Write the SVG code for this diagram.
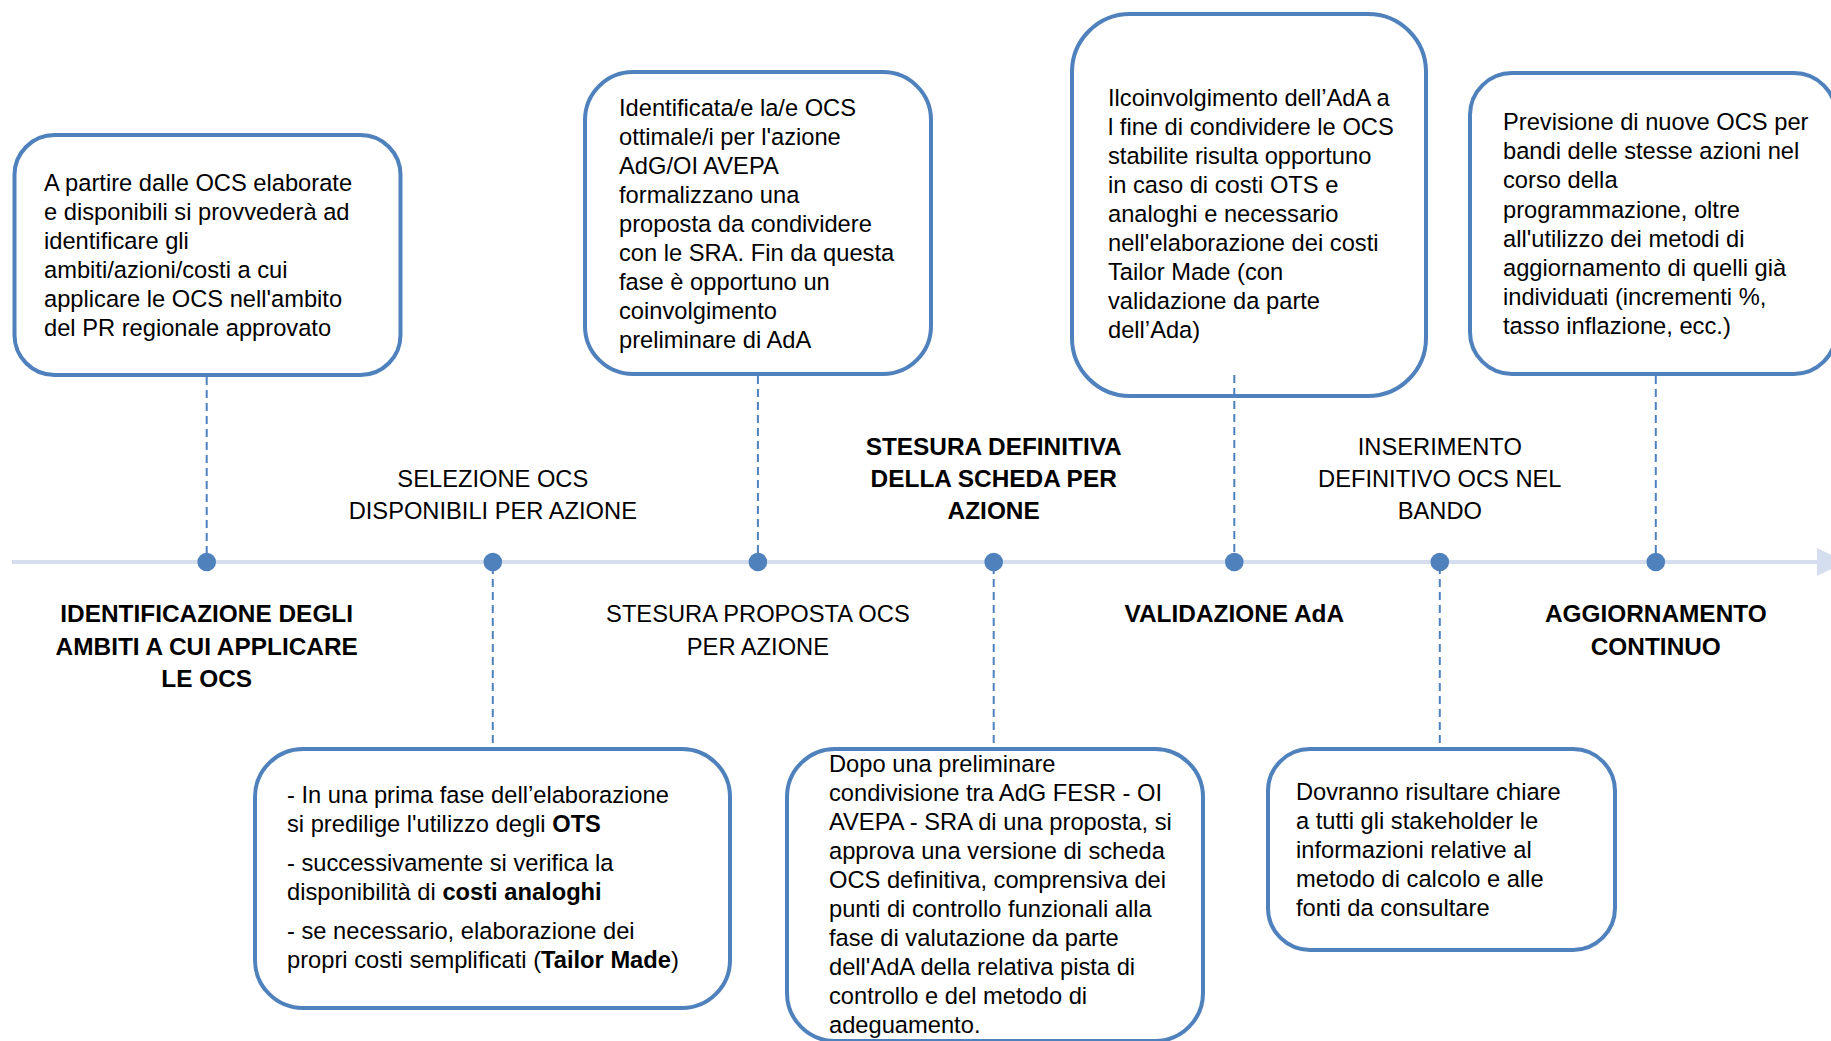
<svg xmlns="http://www.w3.org/2000/svg" width="1831" height="1041" viewBox="0 0 1831 1041">
<style>
.box{fill:#fff;stroke:#4F81BD;stroke-width:4}
.t{font-family:"Liberation Sans",Arial,sans-serif;font-size:23.7px;fill:#000}
.lb{font-family:"Liberation Sans",Arial,sans-serif;font-size:23.7px;fill:#000;text-anchor:middle}
.lbb{font-family:"Liberation Sans",Arial,sans-serif;font-size:24.4px;font-weight:bold;fill:#000;text-anchor:middle}
.dash{stroke:#4F81BD;stroke-width:2;stroke-dasharray:8 5;fill:none}
.dot{fill:#4F81BD}
.b{font-weight:bold}
</style>
<rect width="1831" height="1041" fill="#fff"/>

<g id="timeline">
<line x1="12" y1="562" x2="1820" y2="562" stroke="#D5DEEE" stroke-width="4"/>
<polygon points="1817,548 1846,562 1817,576" fill="#D5DEEE"/>
</g>

<g id="box1">
<rect class="box" x="14.5" y="135" width="386" height="240" rx="40"/>
<text class="t"><tspan x="44" y="190.5">A partire dalle OCS elaborate</tspan><tspan x="44" y="219.5">e disponibili si provvederà ad</tspan><tspan x="44" y="248.5">identificare gli</tspan><tspan x="44" y="277.5">ambiti/azioni/costi a cui</tspan><tspan x="44" y="306.5">applicare le OCS nell'ambito</tspan><tspan x="44" y="335.5">del PR regionale approvato</tspan></text>
</g>

<g id="box2">
<rect class="box" x="585" y="72" width="346" height="302" rx="48"/>
<text class="t"><tspan x="619" y="116">Identificata/e la/e OCS</tspan><tspan x="619" y="145">ottimale/i per l'azione</tspan><tspan x="619" y="174">AdG/OI AVEPA</tspan><tspan x="619" y="203">formalizzano una</tspan><tspan x="619" y="232">proposta da condividere</tspan><tspan x="619" y="261">con le SRA. Fin da questa</tspan><tspan x="619" y="290">fase è opportuno un</tspan><tspan x="619" y="319">coinvolgimento</tspan><tspan x="619" y="348">preliminare di AdA</tspan></text>
</g>

<g id="box3">
<rect class="box" x="1072" y="14" width="354" height="382" rx="58"/>
<text class="t"><tspan x="1108" y="106">Ilcoinvolgimento dell’AdA a</tspan><tspan x="1108" y="135">l fine di condividere le OCS</tspan><tspan x="1108" y="164">stabilite risulta opportuno</tspan><tspan x="1108" y="193">in caso di costi OTS e</tspan><tspan x="1108" y="222">analoghi e necessario</tspan><tspan x="1108" y="251">nell'elaborazione dei costi</tspan><tspan x="1108" y="280">Tailor Made (con</tspan><tspan x="1108" y="309">validazione da parte</tspan><tspan x="1108" y="338">dell’Ada)</tspan></text>
</g>

<g id="box4">
<rect class="box" x="1470" y="73" width="366" height="301" rx="42"/>
<text class="t"><tspan x="1503" y="130">Previsione di nuove OCS per</tspan><tspan x="1503" y="159.2">bandi delle stesse azioni nel</tspan><tspan x="1503" y="188.4">corso della</tspan><tspan x="1503" y="217.6">programmazione, oltre</tspan><tspan x="1503" y="246.8">all'utilizzo dei metodi di</tspan><tspan x="1503" y="276">aggiornamento di quelli già</tspan><tspan x="1503" y="305.2">individuati (incrementi %,</tspan><tspan x="1503" y="334.4">tasso inflazione, ecc.)</tspan></text>
</g>

<g id="box5">
<rect class="box" x="255" y="749" width="475" height="259" rx="48"/>
<text class="t"><tspan x="287" y="803">- In una prima fase dell’elaborazione</tspan><tspan x="287" y="832">si predilige l'utilizzo degli <tspan class="b">OTS</tspan></tspan><tspan x="287" y="871">- successivamente si verifica la</tspan><tspan x="287" y="900">disponibilità di <tspan class="b">costi analoghi</tspan></tspan><tspan x="287" y="939">- se necessario, elaborazione dei</tspan><tspan x="287" y="968">propri costi semplificati (<tspan class="b">Tailor Made</tspan>)</tspan></text>
</g>

<g id="box6">
<rect class="box" x="787" y="749" width="416" height="292" rx="48"/>
<text class="t"><tspan x="829" y="772">Dopo una preliminare</tspan><tspan x="829" y="801">condivisione tra AdG FESR - OI</tspan><tspan x="829" y="830">AVEPA - SRA di una proposta, si</tspan><tspan x="829" y="859">approva una versione di scheda</tspan><tspan x="829" y="888">OCS definitiva, comprensiva dei</tspan><tspan x="829" y="917">punti di controllo funzionali alla</tspan><tspan x="829" y="946">fase di valutazione da parte</tspan><tspan x="829" y="975">dell'AdA della relativa pista di</tspan><tspan x="829" y="1004">controllo e del metodo di</tspan><tspan x="829" y="1033">adeguamento.</tspan></text>
</g>

<g id="box7">
<rect class="box" x="1268" y="749" width="347" height="201" rx="42"/>
<text class="t"><tspan x="1296" y="800">Dovranno risultare chiare</tspan><tspan x="1296" y="829">a tutti gli stakeholder le</tspan><tspan x="1296" y="858">informazioni relative al</tspan><tspan x="1296" y="887">metodo di calcolo e alle</tspan><tspan x="1296" y="916">fonti da consultare</tspan></text>
</g>

<g id="connectors">
<line class="dash" x1="206.7" y1="377" x2="206.7" y2="558"/>
<line class="dash" x1="492.8" y1="566" x2="492.8" y2="747"/>
<line class="dash" x1="757.9" y1="376" x2="757.9" y2="558"/>
<line class="dash" x1="993.7" y1="566" x2="993.7" y2="747"/>
<line class="dash" x1="1234.3" y1="375" x2="1234.3" y2="558"/>
<line class="dash" x1="1439.8" y1="566" x2="1439.8" y2="747"/>
<line class="dash" x1="1655.8" y1="376" x2="1655.8" y2="558"/>
</g>

<g id="dots">
<circle class="dot" cx="206.7" cy="562" r="9.3"/>
<circle class="dot" cx="492.8" cy="562" r="9.3"/>
<circle class="dot" cx="757.9" cy="562" r="9.3"/>
<circle class="dot" cx="993.7" cy="562" r="9.3"/>
<circle class="dot" cx="1234.3" cy="562" r="9.3"/>
<circle class="dot" cx="1439.8" cy="562" r="9.3"/>
<circle class="dot" cx="1655.8" cy="562" r="9.3"/>
</g>

<g id="labels">
<g id="label1"><text class="lbb" x="206.7" y="622">IDENTIFICAZIONE DEGLI</text><text class="lbb" x="206.7" y="655">AMBITI A CUI APPLICARE</text><text class="lbb" x="206.7" y="687">LE OCS</text></g>
<g id="label2"><text class="lb" x="492.8" y="487">SELEZIONE OCS</text><text class="lb" x="492.8" y="519">DISPONIBILI PER AZIONE</text></g>
<g id="label3"><text class="lb" x="757.9" y="622">STESURA PROPOSTA OCS</text><text class="lb" x="757.9" y="655">PER AZIONE</text></g>
<g id="label4"><text class="lbb" x="993.7" y="455">STESURA DEFINITIVA</text><text class="lbb" x="993.7" y="487">DELLA SCHEDA PER</text><text class="lbb" x="993.7" y="519">AZIONE</text></g>
<g id="label5"><text class="lbb" x="1234.3" y="622">VALIDAZIONE AdA</text></g>
<g id="label6"><text class="lb" x="1439.8" y="455">INSERIMENTO</text><text class="lb" x="1439.8" y="487">DEFINITIVO OCS NEL</text><text class="lb" x="1439.8" y="519">BANDO</text></g>
<g id="label7"><text class="lbb" x="1655.8" y="622">AGGIORNAMENTO</text><text class="lbb" x="1655.8" y="655">CONTINUO</text></g>
</g>
</svg>
